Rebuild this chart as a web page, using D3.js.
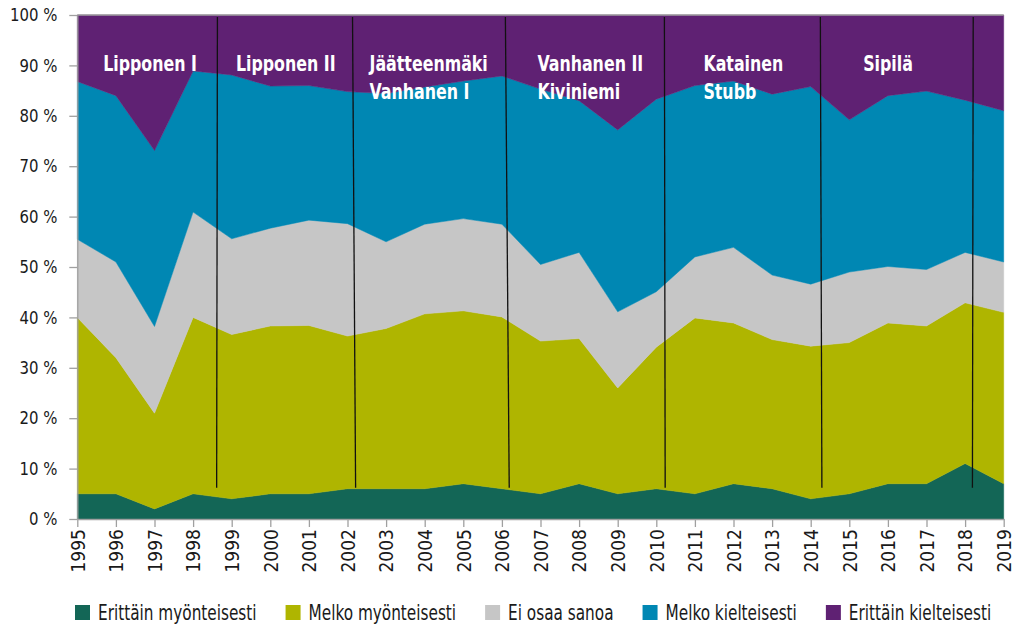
<!DOCTYPE html>
<html>
<head>
<meta charset="utf-8">
<script src="https://cdn.jsdelivr.net/npm/d3@7"></script>
<style>
  body { margin: 0; background: #fff; }
  svg text { font-family: "Liberation Sans Narrow", "DejaVu Sans Condensed", "Roboto Condensed", "Liberation Sans", sans-serif; font-stretch: condensed; }
</style>
</head>
<body>
<svg id="chart" width="1017" height="627"></svg>
<script>
// Data
const years = [1995, 1996, 1997, 1998, 1999, 2000, 2001, 2002, 2003, 2004, 2005, 2006,
               2007, 2008, 2009, 2010, 2011, 2012, 2013, 2014, 2015, 2016, 2017, 2018, 2019];

const erittainMyont = [5, 5, 2, 5, 4, 5, 5, 6, 6, 6, 7, 6, 5, 7, 5, 6, 5, 7, 6, 4, 5, 7, 7, 11, 7];
const melkoMyont    = [35, 27, 19, 35, 32.6, 33.3, 33.4, 30.3, 31.8, 34.7, 34.3, 34.1, 30.3, 28.8, 21,
                       28.1, 34.9, 31.9, 29.6, 30.3, 30, 31.9, 31.3, 31.9, 34];
const eiOsaa        = [15.5, 19, 17.2, 20.9, 19, 19.4, 20.9, 22.3, 17.2, 17.8, 18.3, 18.4, 15.2, 17.1, 15.1,
                       11, 12.1, 15, 12.8, 12.3, 14, 11.2, 11.2, 10, 10];
const melkoKielt    = [31.3, 33, 34.9, 28, 32.5, 28.2, 26.7, 26.2, 29.4, 27.2, 27.3, 29.4, 34.8, 30.1, 36.1,
                       38.2, 34, 33, 35.9, 39.2, 30.2, 33.9, 35.4, 30.2, 30];
const erittainKielt = [13.2, 16, 26.9, 11.1, 11.9, 14.1, 14, 15.2, 15.6, 14.3, 13.1, 12.1, 14.7, 17, 22.8,
                       16.7, 14, 13.1, 15.7, 14.2, 20.8, 16, 15.1, 16.9, 19];

const seriesNames = ["Erittäin myönteisesti", "Melko myönteisesti", "Ei osaa sanoa",
                     "Melko kielteisesti", "Erittäin kielteisesti"];
const seriesColors = ["#136656", "#afb500", "#c6c6c6", "#0087b3", "#5f2173"];

const yTicks = [0, 10, 20, 30, 40, 50, 60, 70, 80, 90, 100];

// government changes (line drawn from top year to bottom year, slightly slanted)
const govLineTop    = [1998.63, 2002.13, 2006.09, 2010.21, 2014.25, 2018.21];
const govLineBottom = [1998.61, 2002.21, 2006.19, 2010.23, 2014.29, 2018.19];

// government labels: left edge (in years) and text lines
const govLabelX = [1995.67, 1999.11, 2002.57, 2006.92, 2011.22, 2015.36];
const govLabelText = [["Lipponen I"], ["Lipponen II"], ["Jäätteenmäki", "Vanhanen I"],
                      ["Vanhanen II", "Kiviniemi"], ["Katainen", "Stubb"], ["Sipilä"]];

// Layout
const svg = d3.select("#chart");
const plotLeft = 77.3, plotRight = 1003.7, plotTop = 15, plotBottom = 519;

const x = d3.scaleLinear().domain([1995, 2019]).range([plotLeft, plotRight]);
const y = d3.scaleLinear().domain([0, 100]).range([plotBottom, plotTop]);

// squeeze text horizontally to mimic the condensed font of the original
function condense(sel, k) {
    sel.each(function () {
        const w = this.getComputedTextLength();
        this.setAttribute("textLength", w * k);
        this.setAttribute("lengthAdjust", "spacingAndGlyphs");
    });
}

// Stack
const rows = years.map((yr, i) => ({
    year: yr,
    s0: erittainMyont[i], s1: melkoMyont[i], s2: eiOsaa[i], s3: melkoKielt[i], s4: erittainKielt[i]
}));
const keys = ["s0", "s1", "s2", "s3", "s4"];
const stacked = d3.stack().keys(keys)(rows);

const area = d3.area()
    .x(d => x(d.data.year))
    .y0(d => y(d[0]))
    .y1(d => y(d[1]));

svg.append("g").selectAll("path")
    .data(stacked)
    .join("path")
    .attr("d", area)
    .attr("fill", (d, i) => seriesColors[i])
    .attr("stroke", (d, i) => seriesColors[i])
    .attr("stroke-width", 0.5);

// Axes
const axisColor = "#a0a0a0";

const yAxis = svg.append("g")
    .attr("transform", `translate(${plotLeft},0)`)
    .call(d3.axisLeft(y).tickValues(yTicks).tickFormat(d => d + " %").tickSize(8).tickPadding(12).tickSizeOuter(0));

const xAxis = svg.append("g")
    .attr("transform", `translate(0,${plotBottom})`)
    .call(d3.axisBottom(x).tickValues(years).tickFormat(d => String(d)).tickSize(8).tickSizeOuter(0));

xAxis.selectAll("text")
    .attr("transform", "rotate(-90)")
    .attr("x", -10)
    .attr("y", 0)
    .attr("dy", "0.36em")
    .attr("text-anchor", "end");

[xAxis, yAxis].forEach(g => {
    g.selectAll("path, line").attr("stroke", axisColor).attr("stroke-width", 1.3);
    g.selectAll("text").attr("fill", "#1a1a1a").attr("font-size", "19px");
});
yAxis.selectAll("text").attr("font-size", "18px");
condense(yAxis.selectAll("text"), 0.92);

// top border
svg.append("line")
    .attr("x1", plotLeft).attr("x2", plotRight)
    .attr("y1", plotTop).attr("y2", plotTop)
    .attr("stroke", axisColor).attr("stroke-width", 1.3);

// Government change lines
svg.append("g").selectAll("line")
    .data(govLineTop)
    .join("line")
    .attr("x1", d => x(d))
    .attr("x2", (d, i) => x(govLineBottom[i]))
    .attr("y1", y(99.6))
    .attr("y2", y(6.2))
    .attr("stroke", "#111")
    .attr("stroke-width", 1.3);

// Government labels
const labelG = svg.append("g");
govLabelText.forEach((lines, i) => {
    lines.forEach((t, j) => {
        labelG.append("text")
            .attr("x", x(govLabelX[i]))
            .attr("y", y(88.9 - j * 5.6))
            .attr("fill", "#fff")
            .attr("font-size", "22px")
            .attr("font-weight", "bold")
            .text(t);
    });
});
condense(labelG.selectAll("text"), 0.8);

// Legend
const legendScale = 0.81;
const legend = svg.append("g").attr("transform", "translate(75,605)");
let lx = 0;
seriesNames.forEach((name, i) => {
    const item = legend.append("g").attr("transform", `translate(${lx},0)`);
    item.append("rect")
        .attr("width", 15).attr("height", 15)
        .attr("fill", seriesColors[i]);
    const txt = item.append("text")
        .attr("transform", `translate(23,14.5) scale(${legendScale},1)`)
        .attr("fill", "#1a1a1a")
        .attr("font-size", "21px")
        .text(name);
    lx += 23 + txt.node().getComputedTextLength() * legendScale + 29;
});
</script>
</body>
</html>
